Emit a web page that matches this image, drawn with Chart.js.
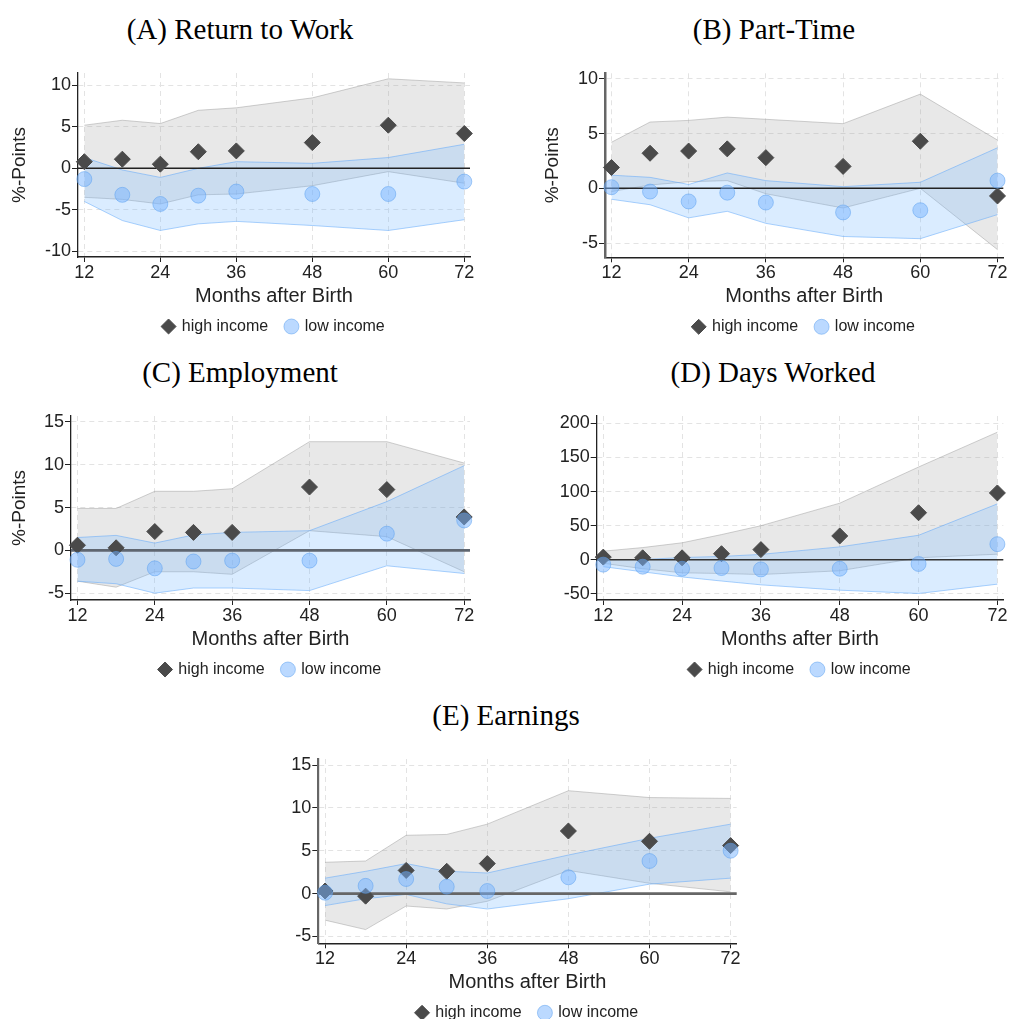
<!DOCTYPE html>
<html><head><meta charset="utf-8">
<script src="https://cdn.jsdelivr.net/npm/chart.js@4.4.0/dist/chart.umd.min.js"></script>
<style>
html,body{margin:0;padding:0;background:#fff;overflow:hidden;width:1010px;height:1019px;position:relative;}
.title{position:absolute;width:400px;text-align:center;font-family:"Liberation Serif","Times New Roman",serif;font-size:29px;line-height:32px;color:#000;white-space:nowrap;}
canvas{position:absolute;}
</style></head><body>
<div class="title" style="left:40px;top:12.5px">(A) Return to Work</div>
<div class="title" style="left:574px;top:12.5px">(B) Part-Time</div>
<div class="title" style="left:40px;top:355.5px">(C) Employment</div>
<div class="title" style="left:573px;top:355.5px">(D) Days Worked</div>
<div class="title" style="left:306px;top:698.5px">(E) Earnings</div>
<canvas id="cA" width="505" height="320" style="left:0px;top:40px"></canvas>
<canvas id="cB" width="497" height="320" style="left:533px;top:40px"></canvas>
<canvas id="cC" width="505" height="320" style="left:0px;top:383px"></canvas>
<canvas id="cD" width="510" height="320" style="left:520px;top:383px"></canvas>
<canvas id="cE" width="540" height="293" style="left:240px;top:726px"></canvas>
<script>
// ---- data ----
const months = [12, 18, 24, 30, 36, 48, 60, 72];
const xTicks = [12, 24, 36, 48, 60, 72];
const seriesLabels = ['high income', 'low income'];

// (A) Return to Work
const highA   = [0.8, 1.1, 0.5, 2.0, 2.1, 3.1, 5.2, 4.2];
const lowA    = [-1.3, -3.2, -4.3, -3.3, -2.8, -3.1, -3.1, -1.6];
const highUpA = [5.2, 5.8, 5.4, 7.0, 7.3, 8.5, 10.8, 10.3];
const highLoA = [-3.5, -3.75, -4.3, -3.2, -3.1, -2.1, -0.4, -1.8];
const lowUpA  = [1.3, -0.2, -1.1, 0.0, 0.8, 0.6, 1.3, 2.9];
const lowLoA  = [-4.0, -6.3, -7.5, -6.7, -6.4, -6.9, -7.5, -6.2];
const yTicksA = [-10, -5, 0, 5, 10];

// (B) Part-Time
const highB   = [1.9, 3.2, 3.4, 3.6, 2.8, 2.0, 4.3, -0.7];
const lowB    = [0.1, -0.3, -1.2, -0.4, -1.3, -2.2, -2.0, 0.7];
const highUpB = [4.2, 6.05, 6.2, 6.5, 6.3, 5.9, 8.6, 4.4];
const highLoB = [-0.3, 0.3, 0.6, 0.7, -0.5, -1.8, 0.0, -5.6];
const lowUpB  = [1.2, 1.0, 0.35, 1.4, 0.7, 0.15, 0.55, 3.7];
const lowLoB  = [-1.0, -1.5, -2.7, -2.1, -3.2, -4.4, -4.6, -2.4];
const yTicksB = [-5, 0, 5, 10];

// (C) Employment
const highC   = [0.6, 0.3, 2.2, 2.1, 2.1, 7.4, 7.1, 3.9];
const lowC    = [-1.1, -1.0, -2.1, -1.3, -1.2, -1.2, 1.95, 3.5];
const highUpC = [4.9, 4.9, 6.9, 6.9, 7.2, 12.7, 12.7, 10.2];
const highLoC = [-3.6, -4.3, -2.5, -2.5, -2.8, 2.3, 1.6, -2.5];
const lowUpC  = [1.5, 1.75, 0.85, 1.8, 2.1, 2.3, 5.7, 9.9];
const lowLoC  = [-3.6, -3.9, -5.0, -4.4, -4.4, -4.7, -1.8, -2.7];
const yTicksC = [-5, 0, 5, 10, 15];

// (D) Days Worked
const highD   = [4, 3, 3, 9, 15, 35, 69, 98];
const lowD    = [-7, -10, -13, -12, -14, -13, -6, 23];
const highUpD = [12.7, 18, 25, 37, 50, 83, 136, 187];
const highLoD = [-5, -13, -19, -20, -21.5, -16, 3, 8.3];
const lowUpD  = [0.5, 0.5, 3.4, 5, 8, 19, 36, 82];
const lowLoD  = [-10, -17.5, -25, -31, -36.6, -44.4, -49.3, -35.6];
const yTicksD = [-50, 0, 50, 100, 150, 200];

// (E) Earnings
const highE   = [0.3, -0.3, 2.7, 2.6, 3.5, 7.3, 6.1, 5.6];
const lowE    = [0.1, 0.9, 1.7, 0.8, 0.3, 1.9, 3.8, 5.0];
const highUpE = [3.65, 3.8, 6.8, 6.9, 8.1, 12.0, 11.2, 11.1];
const highLoE = [-3.1, -4.2, -1.45, -1.8, -0.9, 2.7, 1.2, 0.2];
const lowUpE  = [1.8, 2.6, 3.5, 2.6, 2.4, 4.5, 6.45, 8.1];
const lowLoE  = [-1.4, -0.6, -0.1, -1.2, -1.8, -0.6, 1.1, 1.8];
const yTicksE = [-5, 0, 5, 10, 15];

// ---- drawing ----
Chart.defaults.font.family = '"Liberation Sans", Arial, sans-serif';
Chart.defaults.color = '#222';

const pts = arr => months.map((m, i) => ({x: m, y: arr[i]}));

const zeroLine = {
  id: 'zeroLine',
  beforeDatasetDraw(chart, args, opts) {
    if (args.index !== 0) return;
    const {ctx, chartArea: a} = chart;
    const py = chart.scales.y.getPixelForValue(0);
    ctx.save();
    ctx.strokeStyle = opts.color;
    ctx.lineWidth = opts.width;
    ctx.beginPath(); ctx.moveTo(a.left, py); ctx.lineTo(a.right, py); ctx.stroke();
    ctx.restore();
  }
};
const legendPlace = {
  id: 'legendPlace',
  afterLayout(chart) {
    const lg = chart.legend, a = chart.chartArea;
    const cx = (a.left + a.right) / 2, cy = a.bottom + 69.5;
    const w = lg.right - lg.left;
    lg.left = cx - w / 2; lg.right = cx + w / 2;
    const pad = lg.options.labels.padding, fs = 16;
    lg.top = cy - pad - fs / 2; lg.bottom = lg.top + 2 * pad + fs + 10;
    lg.height = lg.bottom - lg.top;
  }
};

function panel(id, d, L) {
  const gridBase = {color: '#e3e3e3', lineWidth: 1, drawTicks: true, tickColor: '#222', tickWidth: 1, tickBorderDash: []};
  new Chart(document.getElementById(id), {
    type: 'line',
    data: {datasets: [
      {label: seriesLabels[0], data: pts(d.high), showLine: false, pointStyle: 'rectRot', pointRadius: 8, pointHoverRadius: 8,
       backgroundColor: '#4a4a4a', borderColor: '#4a4a4a', borderWidth: 1, order: 1, clip: false},
      {label: seriesLabels[1], data: pts(d.low), showLine: false, pointStyle: 'circle', pointRadius: 7.5, pointHoverRadius: 7.5,
       backgroundColor: 'rgba(120,180,255,0.5)', borderColor: 'rgba(90,160,240,0.5)', borderWidth: 1, order: 0, clip: false},
      {label: 'hiUp', data: pts(d.hiUp), pointRadius: 0, tension: 0, borderColor: 'rgba(150,150,150,0.45)', borderWidth: 1,
       backgroundColor: 'rgba(150,150,150,0.22)', fill: '+1', order: 3},
      {label: 'hiLo', data: pts(d.hiLo), pointRadius: 0, tension: 0, borderColor: 'rgba(150,150,150,0.45)', borderWidth: 1,
       fill: false, order: 3},
      {label: 'loUp', data: pts(d.loUp), pointRadius: 0, tension: 0, borderColor: 'rgba(100,170,250,0.55)', borderWidth: 1,
       backgroundColor: 'rgba(120,185,255,0.27)', fill: '+1', order: 2},
      {label: 'loLo', data: pts(d.loLo), pointRadius: 0, tension: 0, borderColor: 'rgba(100,170,250,0.55)', borderWidth: 1,
       fill: false, order: 2}
    ]},
    options: {
      responsive: false, animation: false, devicePixelRatio: 1, events: [],
      layout: {padding: {left: 0, top: L.pt, right: L.pr, bottom: L.pb}},
      scales: {
        x: {
          type: 'linear', min: 11, max: L.xmax,
          afterBuildTicks: s => { s.ticks = xTicks.map(v => ({value: v})); },
          afterFit: s => { s.height = 51; },
          ticks: {font: {size: 18}, padding: 0, maxRotation: 0, autoSkip: false, color: '#222'},
          grid: Object.assign({}, gridBase, {tickLength: 5}),
          border: {display: true, color: '#222', width: 1.5, dash: [5, 4]},
          title: {display: true, text: 'Months after Birth', font: {size: 20}, padding: {top: 0, bottom: 0}, color: '#222'}
        },
        y: {
          type: 'linear', min: L.ymin, max: L.ymax,
          afterBuildTicks: s => { s.ticks = d.yTicks.map(v => ({value: v})); },
          afterFit: s => { s.width = L.yw; },
          ticks: {font: {size: 18}, padding: 1, color: '#222'},
          grid: Object.assign({}, gridBase, {tickLength: 6}),
          border: {display: true, color: L.axColor, width: L.axWidth, dash: [5, 4]},
          title: {display: L.ytitle, text: '%-Points', font: {size: 19}, padding: {top: 8, bottom: 0}, color: '#222'}
        }
      },
      plugins: {
        legend: {
          display: true, position: 'bottom', maxHeight: 1,
          labels: {
            usePointStyle: true, boxWidth: 10.6, boxHeight: 10.6, padding: 18, font: {size: 16}, color: '#222',
            filter: item => item.datasetIndex < 2,
            sort: (a, b) => a.datasetIndex - b.datasetIndex
          }
        },
        title: {display: false},
        tooltip: {enabled: false},
        zeroLine: {color: L.zColor, width: L.zWidth}
      }
    },
    plugins: [zeroLine, legendPlace]
  });
}

panel('cA', {high: highA, low: lowA, hiUp: highUpA, hiLo: highLoA, loUp: lowUpA, loLo: lowLoA, yTicks: yTicksA},
  {pt: 33, pr: 35, pb: 51, yw: 78, xmax: 72.9, ymin: -10.7, ymax: 11.5, ytitle: true, axColor: '#222', axWidth: 1.3, zColor: '#222', zWidth: 1.4});
panel('cB', {high: highB, low: lowB, hiUp: highUpB, hiLo: highLoB, loUp: lowUpB, loLo: lowLoB, yTicks: yTicksB},
  {pt: 33.3, pr: 26.7, pb: 50.7, yw: 72, xmax: 72.9, ymin: -6.3, ymax: 10.5, ytitle: true, axColor: '#666', axWidth: 2.5, zColor: '#222', zWidth: 1.4});
panel('cC', {high: highC, low: lowC, hiUp: highUpC, hiLo: highLoC, loUp: lowUpC, loLo: lowLoC, yTicks: yTicksC},
  {pt: 33, pr: 35, pb: 51, yw: 71, xmax: 72.9, ymin: -5.8, ymax: 15.7, ytitle: true, axColor: '#222', axWidth: 1.3, zColor: '#5f6670', zWidth: 2.6});
panel('cD', {high: highD, low: lowD, hiUp: highUpD, hiLo: highLoD, loUp: lowUpD, loLo: lowLoD, yTicks: yTicksD},
  {pt: 33, pr: 26.7, pb: 51, yw: 76.7, xmax: 72.9, ymin: -58.8, ymax: 210.7, ytitle: false, axColor: '#222', axWidth: 1.3, zColor: '#333', zWidth: 1.5});
panel('cE', {high: highE, low: lowE, hiUp: highUpE, hiLo: highLoE, loUp: lowUpE, loLo: lowLoE, yTicks: yTicksE},
  {pt: 33, pr: 43.3, pb: 23.7, yw: 78.3, xmax: 72.9, ymin: -5.8, ymax: 15.7, ytitle: false, axColor: '#666', axWidth: 2.2, zColor: '#666', zWidth: 2.6});
</script>
</body></html>
